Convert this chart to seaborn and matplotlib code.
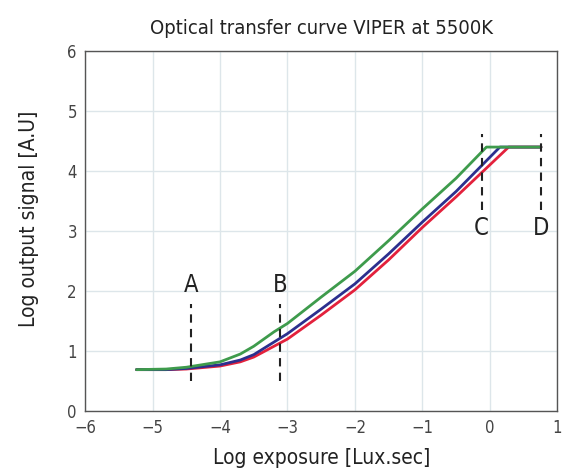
import numpy as np
import pandas as pd
import matplotlib
matplotlib.use("Agg")
import matplotlib.pyplot as plt
import seaborn as sns

# Data
red_x = [-5.24, -4.8, -4.5, -4.0, -3.7, -3.5, -3.2, -3.0, -2.5, -2.0, -1.5, -1.0, -0.5, 0.28, 0.76]
red_y = [0.69, 0.69, 0.70, 0.75, 0.82, 0.90, 1.08, 1.20, 1.60, 2.02, 2.52, 3.06, 3.57, 4.40, 4.40]
blue_x = [-5.24, -4.8, -4.5, -4.0, -3.7, -3.5, -3.2, -3.0, -2.5, -2.0, -1.5, -1.0, -0.5, 0.15, 0.76]
blue_y = [0.69, 0.69, 0.71, 0.77, 0.85, 0.94, 1.15, 1.29, 1.70, 2.12, 2.62, 3.15, 3.66, 4.40, 4.40]
green_x = [-5.24, -4.8, -4.5, -4.0, -3.7, -3.5, -3.2, -3.0, -2.5, -2.0, -1.5, -1.0, -0.5, -0.05, 0.76]
green_y = [0.69, 0.70, 0.73, 0.82, 0.95, 1.08, 1.32, 1.46, 1.90, 2.33, 2.84, 3.37, 3.88, 4.40, 4.40]

markers_x = [-4.43, -3.11, -0.12, 0.76]
marker_labels = ["A", "B", "C", "D"]
marker_y0 = [0.5, 0.5, 3.35, 3.35]
marker_y1 = [1.78, 1.78, 4.62, 4.62]
label_y = [2.1, 2.1, 3.05, 3.05]

xticks = [-6, -5, -4, -3, -2, -1, 0, 1]
yticks = [0, 1, 2, 3, 4, 5, 6]

df = pd.concat([
    pd.DataFrame({"x": red_x, "y": red_y, "ch": "R"}),
    pd.DataFrame({"x": blue_x, "y": blue_y, "ch": "B"}),
    pd.DataFrame({"x": green_x, "y": green_y, "ch": "G"}),
], ignore_index=True)

sns.set_style("white")
plt.rcParams["font.family"] = ["DejaVu Sans"]
plt.rcParams["font.stretch"] = "condensed"

fig = plt.figure(figsize=(5.68, 4.73), dpi=100)
ax = fig.add_axes([0.150, 0.131, 0.831, 0.761])

ax.grid(True, color="#dde6ea", linewidth=1.0)
ax.set_axisbelow(True)

palette = {"R": "#e3213c", "B": "#2c2f8e", "G": "#3e9b4c"}
sns.lineplot(data=df, x="x", y="y", hue="ch", palette=palette, sort=False,
             estimator=None, linewidth=2.0, legend=False, ax=ax)

for xm, lab, y0, y1, ly in zip(markers_x, marker_labels, marker_y0, marker_y1, label_y):
    ax.plot([xm, xm], [y0, y1], color="#222222", linewidth=1.5, linestyle=(0, (4, 3)))
    ax.text(xm, ly, lab, ha="center", va="center", fontsize=17, color="#222222")

ax.set_xlim(-6, 1)
ax.set_ylim(0, 6)
ax.set_xticks(xticks)
ax.set_yticks(yticks)
ax.set_xticklabels([str(t).replace("-", "\u2212") for t in xticks])
ax.tick_params(axis="both", labelsize=12, colors="#444444", length=0, pad=6)

for s in ax.spines.values():
    s.set_color("#555555")
    s.set_linewidth(1.0)

ax.set_xlabel("Log exposure [Lux.sec]", fontsize=15, color="#222222")
ax.set_ylabel("Log output signal [A.U]", fontsize=15, color="#222222")
ax.xaxis.set_label_coords(0.5, -0.103)
ax.yaxis.set_label_coords(-0.098, 0.535)
ax.set_title("Optical transfer curve VIPER at 5500K", fontsize=14.5, color="#222222", pad=12)

fig.savefig("out.png", dpi=100)
